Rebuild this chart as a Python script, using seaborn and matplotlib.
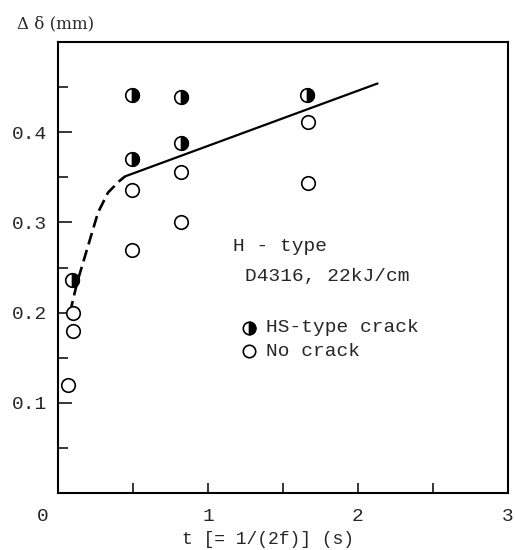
import numpy as np
import pandas as pd
import matplotlib
matplotlib.use("Agg")
import matplotlib.pyplot as plt
from matplotlib.markers import MarkerStyle
from matplotlib.transforms import ScaledTranslation
import seaborn as sns

# ---- data ----
hs_t = [0.09, 0.49, 0.49, 0.82, 0.82, 1.66]
hs_d = [0.236, 0.441, 0.370, 0.439, 0.388, 0.441]
nc_t = [0.067, 0.10, 0.10, 0.49, 0.49, 0.82, 0.82, 1.667, 1.667]
nc_d = [0.120, 0.200, 0.180, 0.336, 0.269, 0.356, 0.300, 0.411, 0.344]
dash_t = [0.08, 0.127, 0.213, 0.267, 0.333, 0.41, 0.447]
dash_d = [0.200, 0.233, 0.281, 0.311, 0.333, 0.346, 0.351]
solid_t = [0.447, 2.13]
solid_d = [0.351, 0.454]
xtick_labels = ["0", "1", "2", "3"]
ytick_labels = ["0.1", "0.2", "0.3", "0.4"]

sns.set_style("ticks")
mono = ["Liberation Mono", "DejaVu Sans Mono"]
plt.rcParams["font.family"] = mono

fig = plt.figure(figsize=(5.15, 5.5), dpi=100)
ax = fig.add_axes([58/515, 1-493/550, 450/515, 451/550])

df_dash = pd.DataFrame({"t": dash_t, "d": dash_d})
df_solid = pd.DataFrame({"t": solid_t, "d": solid_d})
sns.lineplot(data=df_dash, x="t", y="d", ax=ax, color="black", lw=1.9,
             sort=False, estimator=None, dashes=False, linestyle=(0, (4.5, 2.2)))
sns.lineplot(data=df_solid, x="t", y="d", ax=ax, color="black", lw=1.6,
             sort=False, estimator=None)

ms = 95
df_nc = pd.DataFrame({"t": nc_t, "d": nc_d})
df_hs = pd.DataFrame({"t": hs_t, "d": hs_d})
sns.scatterplot(data=df_nc, x="t", y="d", ax=ax, s=ms, marker="o",
                facecolor="white", edgecolor="black", linewidth=1.2, zorder=3)
sns.scatterplot(data=df_hs, x="t", y="d", ax=ax, s=ms, marker="o",
                facecolor="white", edgecolor="black", linewidth=1.2, zorder=3)
sns.scatterplot(data=df_hs, x="t", y="d", ax=ax, s=ms,
                marker=MarkerStyle("o", fillstyle="right"),
                color="black", edgecolor="black", linewidth=1.2, zorder=4)

ax.set_xlim(0, 3)
ax.set_ylim(0, 0.5)
ax.set_xticks([0, 1, 2, 3])
ax.set_xticklabels(xtick_labels)
ax.set_xticks([0.5, 1.5, 2.5], minor=True)
ax.set_yticks([0.1, 0.2, 0.3, 0.4])
ax.set_yticklabels(ytick_labels)
ax.set_yticks([0.05, 0.15, 0.25, 0.35, 0.45], minor=True)
ax.tick_params(axis="y", which="major", direction="in", length=10, width=1.3,
               labelsize=14, pad=8)
ax.tick_params(axis="y", which="minor", direction="in", length=7, width=1.3)
ax.tick_params(axis="x", which="both", direction="in", length=7, width=1.3,
               labelsize=14, pad=11)
for s in ax.spines.values():
    s.set_linewidth(1.5)
    s.set_color("black")
    s.set_visible(True)
lbl0 = ax.get_xticklabels()[0]
lbl0.set_transform(lbl0.get_transform() + ScaledTranslation(-0.15, 0, fig.dpi_scale_trans))

ax.set_xlabel("t [= 1/(2f)] (s)", fontsize=13)
ax.xaxis.set_label_coords(0.467, -0.085)
ax.set_ylabel("")
fig.text(17/515, 1-24/550, "Δ δ (mm)", fontsize=12, va="center", ha="left",
         family=["DejaVu Serif"])

fs = 14
ax.text(1.167, 0.273, "H - type", fontsize=fs, va="center", ha="left")
ax.text(1.247, 0.240, "D4316, 22kJ/cm", fontsize=fs, va="center", ha="left")
ax.scatter([1.273], [0.183], s=80, marker="o", facecolor="white",
           edgecolor="black", linewidth=1.2, zorder=3)
ax.scatter([1.273], [0.183], s=80, marker=MarkerStyle("o", fillstyle="right"),
           color="black", linewidth=1.2, zorder=4)
ax.scatter([1.273], [0.157], s=80, marker="o", facecolor="white",
           edgecolor="black", linewidth=1.2, zorder=3)
ax.text(1.39, 0.183, "HS-type crack", fontsize=fs, va="center", ha="left")
ax.text(1.39, 0.157, "No crack", fontsize=fs, va="center", ha="left")

fig.savefig("out.png", dpi=100)
